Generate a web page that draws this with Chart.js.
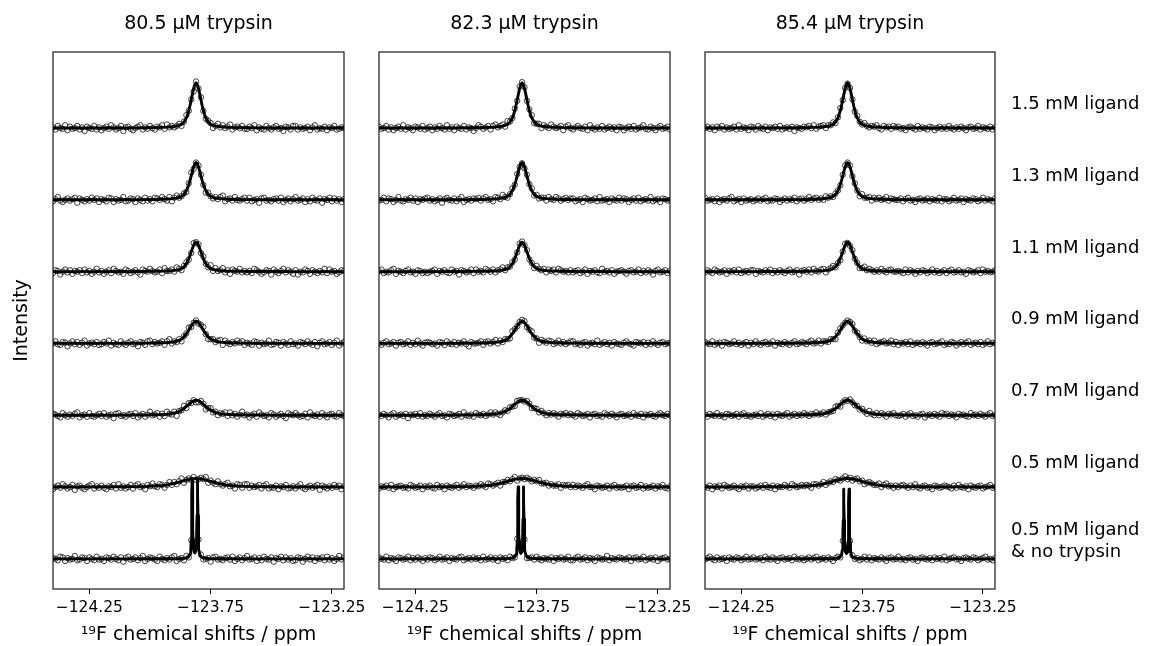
<!DOCTYPE html>
<html><head><meta charset="utf-8">
<script src="https://cdn.jsdelivr.net/npm/chart.js@4.4.1/dist/chart.umd.min.js"></script>
<style>
html,body{margin:0;padding:0;background:#fff;}
#wrap{position:relative;width:1151px;height:646px;overflow:hidden;background:#fff;}
canvas{position:absolute;top:0;}
</style></head><body>
<div id="wrap">
<canvas id="c1" width="385" height="646" style="left:0px;width:385px;height:646px"></canvas>
<canvas id="c2" width="360" height="646" style="left:349px;width:360px;height:646px"></canvas>
<canvas id="c3" width="476" height="646" style="left:675px;width:476px;height:646px"></canvas>
</div>
<script>
// ---------------- data ----------------
const panelTitles = ['80.5 \u00b5M trypsin', '82.3 \u00b5M trypsin', '85.4 \u00b5M trypsin'];
// row 0 = bottom spectrum
const ligandLabels = [['0.5 mM ligand', '& no trypsin'], '0.5 mM ligand', '0.7 mM ligand', '0.9 mM ligand', '1.1 mM ligand', '1.3 mM ligand', '1.5 mM ligand'];
const xTickValues = [-124.25, -123.75, -123.25];
const xAxisTitle = '\u00b9\u2079F chemical shifts / ppm';
const yAxisTitle = 'Intensity';
const rowOffset = 100; // vertical stacking offset between spectra (intensity units)

// measured points (chemical shift, ppm)
const obsShifts = [
-124.40,-124.39,-124.38,-124.37,-124.36,-124.35,-124.34,-124.33,-124.32,-124.31,
-124.30,-124.29,-124.28,-124.27,-124.26,-124.25,-124.24,-124.23,-124.22,-124.21,
-124.20,-124.19,-124.18,-124.17,-124.16,-124.15,-124.14,-124.13,-124.12,-124.11,
-124.10,-124.09,-124.08,-124.07,-124.06,-124.05,-124.04,-124.03,-124.02,-124.01,
-124.00,-123.99,-123.98,-123.97,-123.96,-123.95,-123.94,-123.93,-123.92,-123.91,
-123.90,-123.89,-123.88,-123.87,-123.86,-123.85,-123.84,-123.83,-123.82,-123.81,
-123.80,-123.79,-123.78,-123.77,-123.76,-123.75,-123.74,-123.73,-123.72,-123.71,
-123.70,-123.69,-123.68,-123.67,-123.66,-123.65,-123.64,-123.63,-123.62,-123.61,
-123.60,-123.59,-123.58,-123.57,-123.56,-123.55,-123.54,-123.53,-123.52,-123.51,
-123.50,-123.49,-123.48,-123.47,-123.46,-123.45,-123.44,-123.43,-123.42,-123.41,
-123.40,-123.39,-123.38,-123.37,-123.36,-123.35,-123.34,-123.33,-123.32,-123.31,
-123.30,-123.29,-123.28,-123.27,-123.26,-123.25,-123.24,-123.23,-123.22,-123.21,
-123.20];

// fitted curve positions (broad peaks) and values per ligand row
const fitShifts = [-124.40,-124.21,-124.11,-124.06,-124.01,-123.98,-123.95,-123.93,-123.91,-123.89,-123.88,-123.87,-123.86,-123.85,-123.845,-123.84,-123.835,-123.83,-123.825,-123.82,-123.815,-123.81,
-123.805,-123.80,-123.795,-123.79,-123.785,-123.78,-123.775,-123.77,-123.76,-123.75,-123.74,-123.73,-123.71,-123.69,-123.67,-123.64,-123.61,-123.56,-123.51,-123.41,-123.20];
const fit05 = [0.1,0.2,0.4,0.6,0.9,1.4,2.2,3.1,4.4,6.0,6.9,7.9,8.9,9.8,10.3,10.7,11.1,11.4,11.6,11.8,12.0,12,
12.0,11.8,11.6,11.4,11.1,10.7,10.3,9.8,8.9,7.9,6.9,6.0,4.4,3.1,2.2,1.4,0.9,0.6,0.4,0.2,0.1];
const fit07 = [0.1,0.1,0.2,0.3,0.5,0.7,1.0,1.4,2.2,3.9,5.3,7.1,9.4,12.2,13.7,15.2,16.7,18.0,19.2,20.2,20.8,21,
20.8,20.2,19.2,18.0,16.7,15.2,13.7,12.2,9.4,7.1,5.3,3.9,2.2,1.4,1.0,0.7,0.5,0.3,0.2,0.1,0.1];
const fit09 = [0.1,0.1,0.2,0.3,0.5,0.7,1.0,1.3,1.9,3.1,4.4,6.4,9.4,13.5,16.0,18.7,21.6,24.4,27.0,29.1,30.5,31,
30.5,29.1,27.0,24.4,21.6,18.7,16.0,13.5,9.4,6.4,4.4,3.1,1.9,1.3,1.0,0.7,0.5,0.3,0.2,0.1,0.1];
const fit11 = [0.0,0.1,0.2,0.3,0.4,0.5,0.8,1.0,1.4,2.2,3.0,4.3,6.8,11.3,14.5,18.3,22.8,27.6,32.5,36.8,39.9,41,
39.9,36.8,32.5,27.6,22.8,18.3,14.5,11.3,6.8,4.3,3.0,2.2,1.4,1.0,0.8,0.5,0.4,0.3,0.2,0.1,0.0];
const fit13 = [0.1,0.1,0.2,0.3,0.4,0.6,0.9,1.2,1.7,2.5,3.3,4.8,7.5,12.8,16.7,21.5,27.2,33.6,40.2,46.1,50.4,52,
50.4,46.1,40.2,33.6,27.2,21.5,16.7,12.8,7.5,4.8,3.3,2.5,1.7,1.2,0.9,0.6,0.4,0.3,0.2,0.1,0.1];
const fit15 = [0.1,0.1,0.2,0.3,0.5,0.7,1.0,1.3,1.9,2.8,3.7,5.2,8.3,14.2,18.7,24.5,31.5,39.4,47.7,55.4,60.9,63,
60.9,55.4,47.7,39.4,31.5,24.5,18.7,14.2,8.3,5.2,3.7,2.8,1.9,1.3,1.0,0.7,0.5,0.3,0.2,0.1,0.1];

// fitted doublet (no trypsin)
const doubletShifts = [-124.40,-124.10,-123.95,-123.90,-123.87,-123.85,-123.84,-123.835,-123.832,-123.830,-123.829,-123.828,-123.827,-123.826,-123.825,-123.824,-123.823,-123.822,-123.820,-123.818,-123.815,-123.812,-123.810,-123.808,-123.807,-123.806,-123.805,-123.804,-123.803,-123.802,-123.801,-123.800,-123.798,-123.794,-123.790,-123.78,-123.76,-123.73,-123.68,-123.55,-123.20];
const doublet805 = [0,0,0.1,0.2,0.4,1.1,3.0,6.6,13.4,25.8,38.7,60.0,90.5,109.1,90.7,60.5,39.2,26.7,14.8,10.2,8.3,10.2,14.8,26.7,39.2,60.5,90.7,109.1,90.5,60.0,38.7,25.8,13.4,5.5,3.0,1.1,0.4,0.2,0.1,0,0];
const doublet823 = [0,0,0.1,0.1,0.4,1.0,2.8,6.1,12.3,23.7,35.4,55.0,83.0,100.0,83.2,55.4,35.9,24.5,13.6,9.4,7.6,9.4,13.6,24.5,35.9,55.4,83.2,100.0,83.0,55.0,35.4,23.7,12.3,5.0,2.8,1.0,0.4,0.1,0.1,0,0];
const doublet854 = [0,0,0.1,0.1,0.3,1.0,2.7,5.9,11.9,22.9,34.4,53.4,80.4,97.0,80.6,53.8,34.8,23.7,13.2,9.1,7.4,9.1,13.2,23.7,34.8,53.8,80.6,97.0,80.4,53.4,34.4,22.9,11.9,4.9,2.7,1.0,0.3,0.1,0.1,0,0];

// measured intensities, rows 0..6 (bottom to top), one list per panel
const obs805 = [
[1,0,-2,3,2,-3,1,-1,0,4,-2,-1,2,1,-3,2,0,-2,3,-1, 0,-3,2,1,-1,3,0,-2,2,-4,1,3,-1,0,2,-2,1,4,-3,0, 2,1,-1,-3,3,0,-2,1,-1,2,4,-3,0,1,-2,4,2,26,16,18, 27,6,-1,0,1,-4,2,3,-1,0,-2,1,2,-1,3,-3,0,2,-2,1, 4,-1,0,2,-3,1,-2,3,0,-1,2,-4,1,0,3,-2,2,-1,1,-3, -2,2,1,-4,0,3,-1,2,-3,1,0,2,-2,3,-1,1,-3,0,4,-1,2],
[-3,0,2,-1,4,1,-2,0,3,-4,1,2,-1,-3,0,2,4,-2,1,-1, 2,-1,-3,1,0,3,-2,4,-1,1,-2,0,3,-2,2,4,0,1,-3,3, 1,5,1,0,4,3,-1,3,7,3,7,4,8,12,6,10,12,10,14,10, 11,13,11,14,6,9,6,4,8,4,2,4,6,1,2,-2,4,3,-1,4, 4,-1,2,0,1,3,-2,2,4,-2,0,-1,2,-3,1,0,3,-2,-1,1, -2,1,4,-1,-3,0,2,-1,1,3,-4,2,0,-2,1,-1,3,0,2,-3,1],
[2,1,-1,-3,3,0,-2,1,-1,2,4,-3,0,1,-2,3,-1,-2,0,2, -1,3,-2,0,1,-4,2,3,-1,0,-2,1,2,-1,3,-3,0,2,-2,1, 5,0,1,3,-2,2,-1,5,2,1,5,-1,6,7,13,10,17,17,21,18, 18,20,16,8,10,10,4,5,0,3,2,4,-1,4,0,2,-2,1,5,0, 1,-3,0,2,-2,4,1,-1,0,-3,3,1,-2,0,2,-1,-4,3,1,0, 3,0,-2,-1,2,-3,4,0,-1,1,-2,3,0,-3,1,2,-1,-2,3,0,-1],
[0,3,-1,-2,2,1,-4,0,3,-1,2,-2,1,4,-3,0,1,-1,2,-2, -1,2,0,4,-3,1,-1,-2,3,0,-2,1,3,-1,0,-4,2,1,-2,3, 4,-1,2,0,1,3,-2,3,6,0,3,2,6,3,10,14,22,23,29,32, 28,26,23,13,6,6,6,2,4,5,-2,4,1,-1,2,0,4,1,3,-2, 1,0,-2,3,2,-3,1,-1,0,4,-2,-1,2,1,-3,2,0,-2,3,-1, 0,-3,2,1,-1,3,0,-2,2,-4,1,3,-1,0,2,-2,1,4,-3,0,2],
[-2,2,1,-4,0,3,-1,2,-3,1,0,2,-2,3,-1,1,-3,0,4,-1, 1,-3,0,2,-2,4,1,-1,0,-3,3,1,-2,0,2,-1,-4,3,1,0, 4,1,-1,0,3,-2,5,1,1,3,0,6,4,2,8,13,17,26,40,41, 38,26,21,11,6,9,1,5,1,2,5,-1,2,-3,3,1,0,4,-1,1, -1,1,-2,4,2,0,-3,-1,2,1,-4,3,0,-2,1,4,-1,2,0,-3, 2,-4,0,-1,3,1,-3,2,0,-2,1,-1,4,-2,3,0,1,-3,-1,2,1],
[-2,1,4,-1,-3,0,2,-1,1,3,-4,2,0,-2,1,-1,3,0,2,-3, 1,0,-2,3,2,-3,1,-1,0,4,-2,-1,2,1,-3,2,0,-2,3,-1, 1,-2,3,2,0,4,1,-1,4,-2,3,6,3,5,9,11,23,38,43,52, 48,35,21,10,10,5,2,4,1,4,6,-2,1,2,-1,4,0,-1,1,3, -1,3,-2,0,1,-4,2,3,-1,0,-2,1,2,-1,3,-3,0,2,-2,1, 4,-1,0,2,-3,1,-2,3,0,-1,2,-4,1,0,3,-2,2,-1,1,-3,1],
[1,-2,3,0,-1,4,-3,2,-1,0,3,-2,1,-4,2,0,-1,3,-2,1, -3,0,2,-1,4,1,-2,0,3,-4,1,2,-1,-3,0,2,4,-2,1,-1, 3,0,-2,2,1,4,-1,5,1,3,1,3,6,3,9,18,24,40,51,65, 55,43,24,13,10,7,0,3,6,1,4,0,2,5,-2,1,2,0,3,-1, -1,2,0,4,-3,1,-1,-2,3,0,-2,1,3,-1,0,-4,2,1,-2,3, 3,-2,1,-1,0,2,-3,1,4,-2,0,-1,2,-3,1,0,3,-2,-1,1,0]
];
const obs823 = [
[2,0,-1,3,-2,1,0,-3,2,1,-1,0,3,-2,1,-1,2,0,-3,1, -1,2,1,-2,0,3,-1,0,2,-3,1,0,-1,2,3,-2,0,1,-1,2, 0,1,-2,3,-1,0,2,-1,1,-3,2,0,1,-2,3,1,2,28,16,13, 27,1,1,2,-1,3,0,-2,1,0,-1,2,-3,1,0,2,-1,0,3,-2, -2,1,3,-1,0,2,-2,1,0,-3,2,1,-1,0,4,-2,1,0,-1,2, 1,-1,0,2,-3,1,2,-1,0,3,-2,0,1,-1,2,-3,0,1,2,-1,0],
[-2,1,0,2,-1,3,-3,0,1,2,-1,0,-2,3,1,-1,0,2,-3,1, 0,2,-1,-2,3,0,1,-3,2,0,-1,1,3,-1,1,4,0,2,1,-1, 2,1,4,2,0,5,4,2,4,6,2,7,7,10,8,11,14,9,12,13, 11,13,11,8,10,8,10,5,5,6,2,4,2,2,4,-1,3,2,3,0, 3,0,2,1,-1,2,4,0,0,-3,2,1,-1,0,2,-2,1,3,-1,0, -1,0,2,-3,1,2,-1,0,3,-2,1,-1,0,2,-2,1,0,3,-1,-2,1],
[1,-1,2,0,-3,1,3,-2,0,1,-1,2,-4,1,0,2,-1,3,-2,0, -1,2,0,-2,1,3,-1,0,-3,2,1,-1,0,2,-2,4,0,-1,1,-2, 3,1,0,2,-1,1,4,1,4,2,0,4,7,6,11,12,13,20,21,21, 19,20,16,10,10,9,4,6,3,0,3,1,3,1,-2,2,1,3,0,2, 0,-2,3,1,-1,0,2,-3,1,2,-1,0,-2,3,1,-1,2,0,-3,1, 2,-1,0,1,-2,3,0,-1,2,-3,1,0,2,-1,-2,1,3,0,-1,2,0],
[0,-2,1,3,-1,0,2,-3,1,2,-1,0,3,-2,1,-1,4,0,-3,1, 2,1,-1,0,-3,2,1,-2,3,0,-1,2,-2,1,0,3,-1,-4,2,0, 0,1,3,-2,2,3,0,2,5,0,4,2,6,6,7,17,20,24,30,33, 31,23,19,17,8,7,1,5,3,1,4,3,-1,1,4,0,2,-1,1,3, 3,-1,0,-2,1,2,-3,0,1,-1,4,-2,0,2,-1,1,-3,2,0,-1, -2,1,3,0,-1,-3,2,1,0,2,-2,1,-1,3,0,-2,1,2,-1,0,1],
[1,3,-2,0,-1,2,4,-3,1,0,-2,1,3,-1,0,-3,2,1,-2,0, -2,0,1,3,-3,1,0,2,-1,-2,3,0,1,-4,2,1,-1,0,3,-2, 3,0,1,-1,4,2,0,3,-1,2,3,6,2,6,7,13,17,27,39,42, 37,30,17,12,5,8,4,2,4,-1,3,1,3,-1,4,2,0,1,-1,2, -1,1,2,-2,0,3,-3,1,0,2,-1,-2,4,0,1,-1,2,-3,0,1, 2,0,-3,1,2,-1,0,3,-2,1,-1,2,0,-4,1,3,-1,0,2,-2,1],
[-1,0,3,-2,2,1,-3,0,4,-1,-2,1,0,3,-1,2,-3,1,0,2, 3,-1,1,-2,0,2,-4,1,3,0,-1,2,-2,1,4,-3,0,1,-1,2, 1,3,-1,2,4,0,1,-2,4,3,1,7,4,3,8,16,21,36,46,51, 44,35,22,16,6,7,2,3,3,-1,4,1,0,4,2,-1,1,3,0,2, 2,-2,0,1,-3,3,1,-1,0,2,-2,4,-1,0,1,-3,2,0,-1,3, -1,2,1,-3,0,2,-1,3,-2,0,1,-1,4,-2,0,1,-3,2,1,-1,0],
[2,-1,0,3,-2,1,-3,0,2,-1,4,-2,1,0,-3,2,1,-1,3,-2, 0,2,-3,1,-1,3,0,-2,4,-1,1,-3,2,0,-1,3,-2,1,0,-4, 0,4,2,-1,1,3,-2,3,5,1,3,5,2,10,9,14,27,38,58,64, 57,38,26,18,7,6,6,0,4,2,0,5,2,0,1,3,-3,2,4,0, -2,1,3,0,-1,2,-3,4,0,-2,1,-1,3,-2,0,2,-1,1,-3,2, 1,-3,0,2,-1,3,-2,0,1,4,-1,-2,2,0,-3,1,3,-1,0,2,-2]
];
const obs854 = [
[-1,1,3,0,-2,2,-1,0,1,-3,2,0,-1,2,1,-2,0,3,-1,0, 2,-1,0,1,-2,3,0,-1,2,0,-3,1,2,-1,0,1,-2,3,0,-1, 1,-2,0,2,-1,1,3,-2,0,1,-1,2,0,-3,1,3,2,25,15,12, 25,5,0,1,-2,0,3,-1,2,-2,1,0,-1,2,0,-3,1,2,-1,0, 3,-1,0,-2,1,2,-1,0,-3,1,2,0,-1,1,-2,2,0,1,-1,3, -2,0,1,2,-1,0,-3,1,2,0,-1,2,1,-2,0,1,3,-1,0,-2,1],
[0,-1,2,-3,1,0,2,-2,3,1,-1,0,2,-1,-3,1,0,2,-2,1, 1,-2,0,2,-1,3,0,-1,2,-3,1,0,0,3,1,-1,4,2,0,1, 3,1,3,2,-1,4,4,2,4,7,3,6,8,7,11,10,9,12,15,11, 13,9,11,12,8,9,4,6,7,5,3,3,5,0,3,5,1,2,-1,2, 0,2,3,1,-1,2,0,4,0,-2,1,2,-1,0,-3,2,1,-1,0,2, 1,0,-2,2,-1,3,0,-1,1,-3,2,0,-1,1,2,-2,0,1,3,-1,0],
[1,-2,2,0,-1,3,-1,0,-3,2,1,-1,0,2,-2,1,3,-1,0,-2, 0,1,-1,3,-2,0,2,-1,1,-3,2,0,-1,1,3,-2,0,2,-1,1, 0,3,1,-1,2,1,4,1,2,4,1,4,5,6,12,13,12,18,21,20, 22,18,14,13,8,9,5,2,6,2,0,3,0,3,1,-2,2,1,3,0, -1,0,2,-2,1,3,-1,0,-2,1,2,-3,0,1,-1,2,0,-2,3,1, 2,-1,1,0,-3,2,0,1,-1,-2,3,0,1,-1,2,0,-2,1,3,-1,0],
[2,0,-1,3,-2,0,1,-3,2,1,-1,0,3,-1,1,-2,0,2,-3,1, -1,3,0,-2,1,2,-1,0,3,-3,1,0,-1,2,0,-2,1,3,-1,0, 2,1,-1,2,4,0,1,4,0,3,3,2,6,6,6,15,21,25,29,32, 30,27,18,15,9,4,7,3,4,1,4,-1,1,2,3,0,1,4,-1,2, -2,1,0,2,-1,3,-2,0,1,-1,2,0,-3,1,2,-1,0,1,3,-2, 0,-1,2,1,-3,0,2,-1,1,3,-2,0,1,-1,2,-2,0,3,-1,1,0],
[-1,2,0,-2,3,1,-1,0,2,-3,1,0,2,-1,3,-2,0,1,-1,2, 2,-3,1,0,-1,2,0,3,-2,1,-1,2,0,-2,1,3,-1,0,2,-4, 1,2,0,3,-1,4,1,0,3,4,-1,3,5,8,6,12,16,28,39,40, 36,30,18,12,5,5,7,2,4,2,0,2,0,4,1,-1,2,3,0,0, 1,0,-2,3,-1,2,0,-3,1,-1,2,1,-2,0,3,-1,1,-2,0,2, -2,1,3,-1,0,2,-1,0,-3,2,1,-1,0,2,-2,3,0,1,-1,0,2],
[3,-1,0,1,-2,2,-3,0,1,-1,2,4,-2,0,1,-3,2,-1,0,1, -2,0,2,-1,1,3,-2,0,-1,2,1,-3,0,2,-1,1,0,3,-2,1, 2,-1,1,4,0,2,3,0,2,0,5,3,5,4,9,13,20,35,48,52, 48,33,23,13,5,8,3,3,4,-1,3,1,3,0,1,4,-1,2,1,0, 0,2,-2,1,3,-1,0,-3,1,2,-1,0,2,-2,1,0,-1,3,-2,1, 1,-2,0,3,-1,0,2,-3,1,0,-1,2,1,-2,0,3,-1,1,0,-2,2],
[0,2,-1,1,-3,2,0,3,-2,1,-1,0,2,-2,4,-1,1,0,-3,2, 1,-2,3,0,-1,2,-3,1,0,2,-1,3,-2,0,1,-1,2,-4,1,0, -1,2,1,3,0,4,-1,2,3,4,0,4,4,8,7,15,28,39,56,62, 56,40,23,17,9,5,7,3,1,3,2,4,0,-2,3,1,2,-1,3,1, 2,-1,0,-3,1,2,0,-2,3,-1,1,0,-2,2,1,-3,0,2,-1,1, -1,3,0,-2,1,-1,2,0,-3,1,2,-1,0,3,-2,1,0,-1,2,-2,1]
];

// ---------------- chart ----------------
Chart.defaults.font.family = "'DejaVu Sans', sans-serif";
Chart.defaults.color = '#000';

const X_MIN = -124.40, X_MAX = -123.20;
const Y_MIN = -42, Y_MAX = 706;

const framePlugin = {
  id: 'frame',
  afterDatasetsDraw(chart) {
    const {ctx, chartArea: a} = chart;
    ctx.save();
    ctx.strokeStyle = '#1a1a1a';
    ctx.lineWidth = 1.2;
    ctx.strokeRect(a.left, a.top, a.right - a.left, a.bottom - a.top);
    ctx.restore();
  }
};

function fmtTick(v) { return (v < 0 ? '\u2212' : '') + Math.abs(v).toFixed(2); }

function buildDatasets(obsRows, doubletFit) {
  const fits = [doubletFit, fit05, fit07, fit09, fit11, fit13, fit15];
  const ds = [];
  for (let r = 0; r < 7; r++) {
    const off = r * rowOffset;
    const xs = r === 0 ? doubletShifts : fitShifts;
    ds.push({
      type: 'line', showLine: true,
      data: xs.map((x, i) => ({x: x, y: fits[r][i] + off})),
      borderColor: '#000', borderWidth: 2.9, pointRadius: 0, tension: 0, order: 0,
      borderJoinStyle: 'round', borderCapStyle: 'round'
    });
    const pts = [];
    obsShifts.forEach((x, i) => { if (obsRows[r][i] !== undefined) pts.push({x: x, y: obsRows[r][i] + off}); });
    ds.push({
      type: 'scatter', showLine: false, data: pts,
      pointRadius: 2.7, pointBorderWidth: 1.0,
      pointBorderColor: 'rgba(30,30,30,0.85)', pointBackgroundColor: 'rgba(0,0,0,0)',
      borderColor: 'rgba(30,30,30,0.85)', backgroundColor: 'rgba(0,0,0,0)', order: 1
    });
  }
  return ds;
}

function makeChart(id, panel, obsRows, doubletFit, yWidth, padRight) {
  const scales = {
    x: {
      type: 'linear', min: X_MIN, max: X_MAX,
      afterBuildTicks: s => { s.ticks = xTickValues.map(v => ({value: v})); },
      ticks: {callback: v => fmtTick(v), font: {size: 15.5}, padding: 5, maxRotation: 0, minRotation: 0, autoSkip: false, color: '#000'},
      grid: {display: true, drawOnChartArea: false, drawTicks: true, tickLength: 5, color: '#000', lineWidth: 1},
      border: {display: false},
      title: {display: true, text: xAxisTitle, font: {size: 19}, padding: {top: 0, bottom: 0}, color: '#000'},
      afterFit: s => { s.height = 57; }
    },
    y: {
      type: 'linear', min: Y_MIN, max: Y_MAX, position: 'left',
      ticks: {display: false},
      grid: {display: false, drawTicks: false, tickLength: 0},
      border: {display: false},
      title: {display: panel === 0, text: yAxisTitle, font: {size: 19}, padding: {top: 10.5, bottom: 0}, color: '#000'},
      afterFit: s => { s.width = yWidth; }
    }
  };
  if (panel === 2) {
    scales.yr = {
      type: 'linear', min: Y_MIN, max: Y_MAX, position: 'right',
      afterBuildTicks: s => { s.ticks = ligandLabels.map((_, r) => ({value: r * rowOffset + (r === 0 ? 24 : 33)})); },
      ticks: {callback: (v, i) => ligandLabels[i], font: {size: 18}, padding: 16, color: '#000', autoSkip: false},
      grid: {display: false, drawTicks: false, tickLength: 0},
      border: {display: false},
      afterFit: s => { s.width = 156; }
    };
  }
  return new Chart(document.getElementById(id), {
    type: 'scatter',
    data: {datasets: buildDatasets(obsRows, doubletFit)},
    options: {
      responsive: false, animation: false, devicePixelRatio: 1, events: [],
      layout: {padding: {left: 0, right: padRight, top: 0, bottom: 0}},
      plugins: {
        legend: {display: false},
        tooltip: {enabled: false},
        title: {display: true, text: panelTitles[panel], font: {size: 19, weight: 'normal'}, padding: {top: 12.6, bottom: 16.6}, color: '#000', fullSize: false}
      },
      scales: scales
    },
    plugins: [framePlugin]
  });
}

makeChart('c1', 0, obs805, doublet805, 53, 41);
makeChart('c2', 1, obs823, doublet823, 30, 39);
makeChart('c3', 2, obs854, doublet854, 30, 0);
</script>
</body></html>
